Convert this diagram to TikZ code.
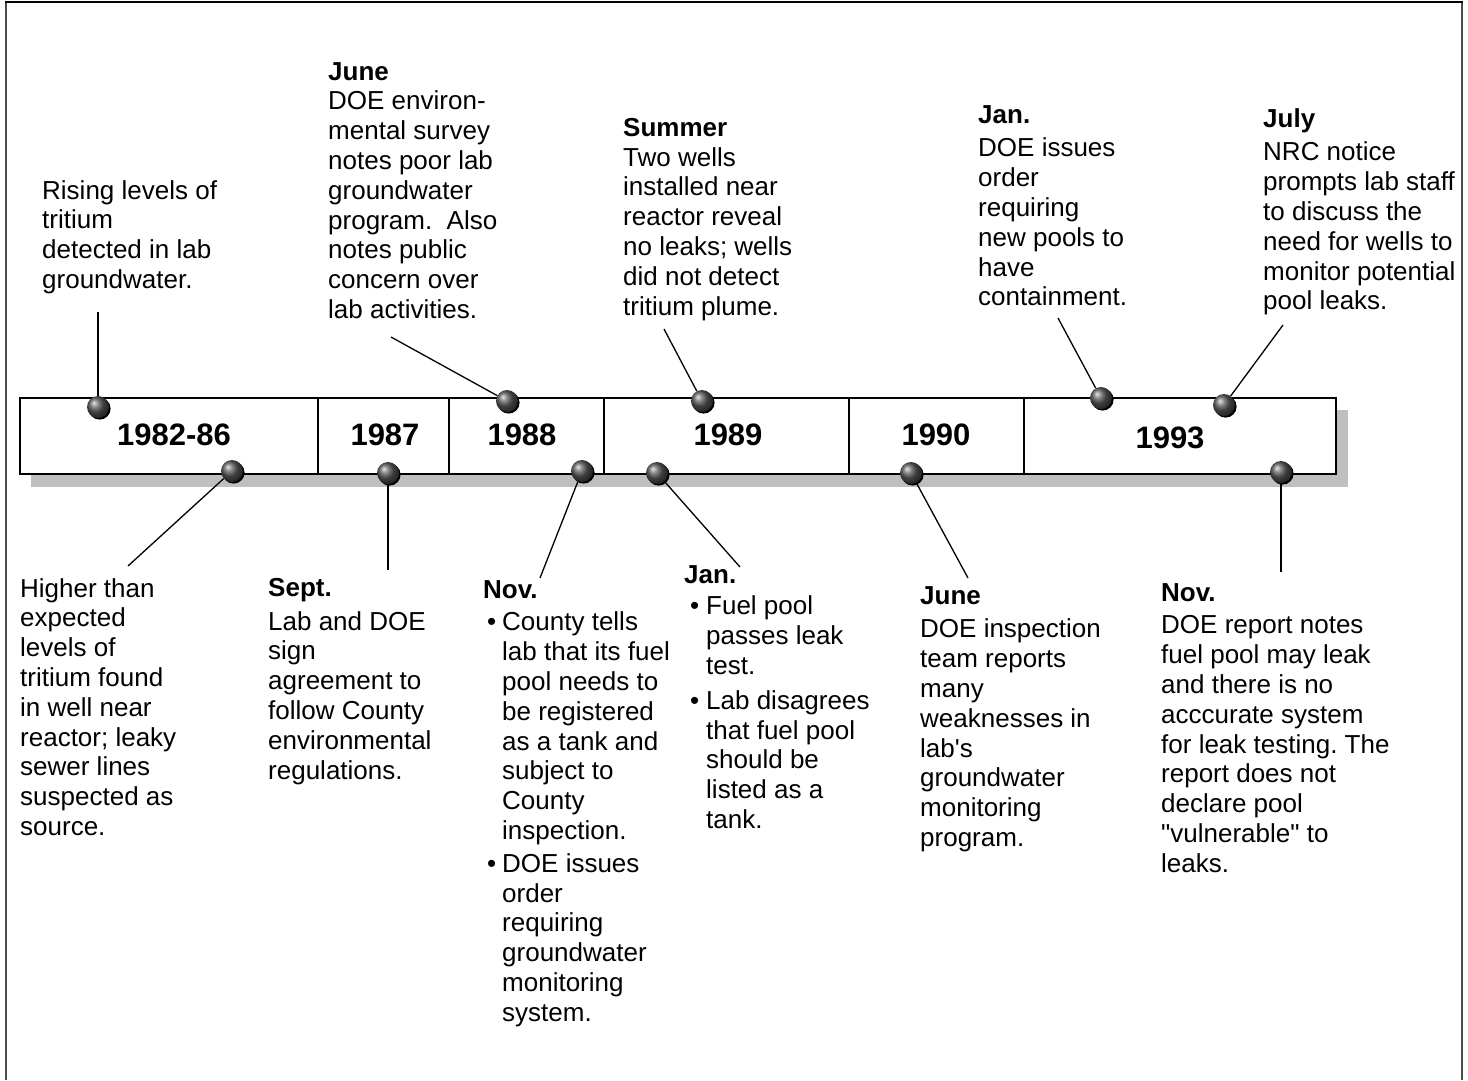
\documentclass[tikz,border=0pt]{standalone}
\usepackage{fontspec}
\setmainfont{Liberation Sans}[Ligatures=TeXOff]
\usetikzlibrary{shadows}
\frenchspacing
\newcommand{\bulA}{\hspace*{4pt}\makebox[15pt][l]{\textbullet}}
\newcommand{\indA}{\hspace*{19pt}}
\newcommand{\bulB}{\hspace*{6pt}\makebox[16pt][l]{\textbullet}}
\newcommand{\indB}{\hspace*{22pt}}
\begin{document}
\begin{tikzpicture}[x=1pt,y=-1pt,
  note/.style={anchor=north west,align=left,inner sep=0pt,font=\fontsize{26}{29.8}\selectfont},
  year/.style={inner sep=0pt,font=\fontsize{31}{36}\selectfont\bfseries},
  pin/.style={circle,inner sep=0pt,minimum size=22pt,ball color=black!65,
    drop shadow={shadow xshift=1.6pt,shadow yshift=-1.6pt,fill=black,opacity=1}},
  link/.style={line width=1.3pt}]
\useasboundingbox (0,0) rectangle (1468,1080);
% frame
\draw[line width=2pt,black!70] (6,1080) -- (6,2) (1462,2) -- (1462,1080);
\draw[line width=2pt] (5,2) -- (1463,2);
% bar
\fill[black!25] (31,410) rectangle (1348,487);
\draw[line width=1.6pt,fill=white] (20,398) rectangle (1336,474);
\foreach \x in {318,449,604,849,1024}
  \draw[line width=1.2pt] (\x,398) -- (\x,474);
\node[year] (Y1) at (174,435) {1982-86};
\node[year] (Y2) at (385,435) {1987};
\node[year] (Y3) at (522,435) {1988};
\node[year] (Y4) at (728,435) {1989};
\node[year] (Y5) at (936,435) {1990};
\node[year] (Y6) at (1170,438) {1993};
% notes above
\node[note] (R) at (42,180) {Rising levels of\\tritium\\detected in lab\\groundwater.};
\node[note] (J88) at (328,62) {\textbf{June}\\DOE environ-\\mental survey\\notes poor lab\\groundwater\\program.\ \ Also\\notes public\\concern over\\lab activities.};
\node[note] (S89) at (623,118) {\textbf{Summer}\\Two wells\\installed near\\reactor reveal\\no leaks; wells\\did not detect\\tritium plume.};
\node[note] (J93) at (978,105) {\textbf{Jan.}\\[4pt]DOE issues\\order\\requiring\\new pools to\\have\\containment.};
\node[note] (L93) at (1263,108) {\textbf{July}\\[4pt]NRC notice\\prompts lab staff\\to discuss the\\need for wells to\\monitor potential\\pool leaks.};
% notes below
\node[note] (H) at (20,578) {Higher than\\expected\\levels of\\tritium found\\in well near\\reactor; leaky\\sewer lines\\suspected as\\source.};
\node[note] (S87) at (268,578) {\textbf{Sept.}\\[4pt]Lab and DOE\\sign\\agreement to\\follow County\\environmental\\regulations.};
\node[note] (N88) at (483,580) {\textbf{Nov.}\\[3pt]\bulA County tells\\\indA lab that its fuel\\\indA pool needs to\\\indA be registered\\\indA as a tank and\\\indA subject to\\\indA County\\\indA inspection.\\[3pt]\bulA DOE issues\\\indA order\\\indA requiring\\\indA groundwater\\\indA monitoring\\\indA system.};
\node[note] (J89) at (684,565) {\textbf{Jan.}\\[2pt]\bulB Fuel pool\\\indB passes leak\\\indB test.\\[5pt]\bulB Lab disagrees\\\indB that fuel pool\\\indB should be\\\indB listed as a\\\indB tank.};
\node[note] (J90) at (920,586) {\textbf{June}\\[4pt]DOE inspection\\team reports\\many\\weaknesses in\\lab's\\groundwater\\monitoring\\program.};
\node[note] (N93) at (1161,583) {\textbf{Nov.}\\[3pt]DOE report notes\\fuel pool may leak\\and there is no\\acccurate system\\for leak testing. The\\report does not\\declare pool\\"vulnerable" to\\leaks.};
% pins
\node[pin] (P1) at (98,407) {};
\node[pin] (P2) at (507,401) {};
\node[pin] (P3) at (702,401) {};
\node[pin] (P4) at (1101,398) {};
\node[pin] (P5) at (1224,405) {};
\node[pin] (Q1) at (232,471) {};
\node[pin] (Q2) at (388,473) {};
\node[pin] (Q3) at (582,471) {};
\node[pin] (Q4) at (657,473) {};
\node[pin] (Q5) at (911,473) {};
\node[pin] (Q6) at (1281,472) {};
% leader ends
\coordinate (p1) at (98,312);
\coordinate (p2) at (391,337);
\coordinate (p3) at (664,329);
\coordinate (p4) at (1058,318);
\coordinate (p5) at (1283,325);
\coordinate (q1) at (128,566);
\coordinate (q2) at (388,570);
\coordinate (q3) at (540,578);
\coordinate (q4) at (740,567);
\coordinate (q5) at (968,578);
\coordinate (q6) at (1281,572);
\foreach \i in {1,...,5}
  \path (p\i) edge[link] (P\i);
\foreach \i in {1,...,6}
  \path (q\i) edge[link] (Q\i);
\end{tikzpicture}
\end{document}
